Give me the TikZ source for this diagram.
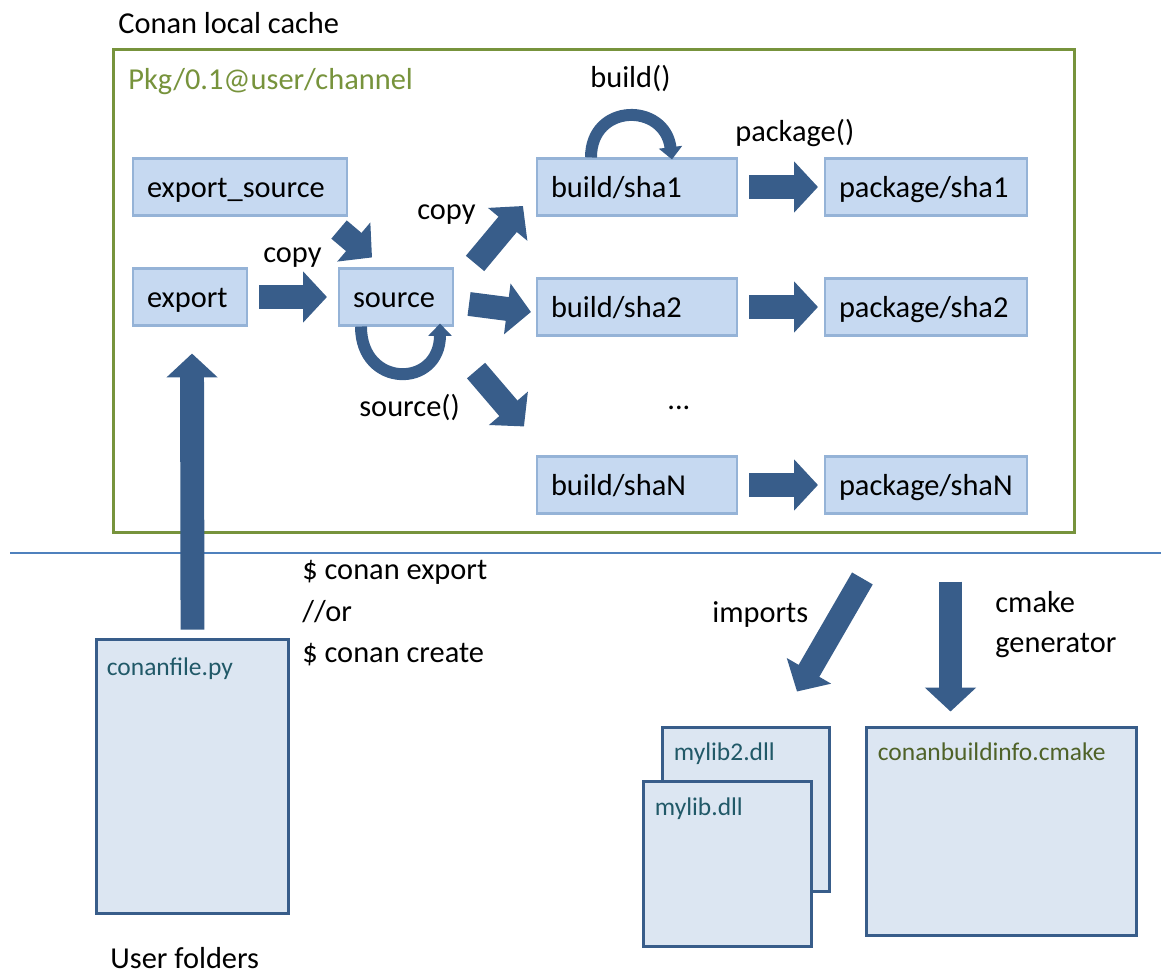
\documentclass[tikz,border=0pt]{standalone}
\usepackage{fontspec}
\setmainfont{Carlito}
\usetikzlibrary{arrows.meta, calc, positioning}

\definecolor{cachegreen}{HTML}{77933C}
\definecolor{boxfill}{HTML}{C6D9F1}
\definecolor{boxline}{HTML}{95B3D7}
\definecolor{arrowblue}{HTML}{385D8A}
\definecolor{filefill}{HTML}{DCE6F2}
\definecolor{sepblue}{HTML}{4F81BD}
\definecolor{fileteal}{HTML}{215968}
\definecolor{fileolive}{HTML}{4F6228}

\begin{document}
\begin{tikzpicture}[x=0.02cm, y=-0.02cm, >=Latex,
  every node/.style={font=\fontsize{17.3}{20}\selectfont},
  dirbox/.style={draw=boxline, fill=boxfill, line width=1.2pt, minimum height=1.14cm, inner xsep=0.28cm, text height=12.4pt, text depth=0pt, align=left},
  filebox/.style={draw=arrowblue, fill=filefill, line width=1.7pt},
  filename/.style={anchor=base west, inner sep=0pt, text=fileteal, font=\fontsize{14.5}{17}\selectfont},
  txt/.style={anchor=base west, inner sep=0pt},
  blockarr/.style={draw=arrowblue, line width=13.6pt, -{Triangle[length=13.6pt, width=28.4pt]}},
  looparr/.style={draw=arrowblue, line width=6.8pt, -{Triangle[length=7pt, width=13pt]}}]

  \useasboundingbox (0,0) rectangle (1161,976);

  % local cache
  \node[txt] (title) at (118,34) {Conan local cache};
  \node[draw=cachegreen, line width=1.7pt, minimum width=19.24cm, minimum height=9.68cm, inner sep=0pt] (cache) at (594,291) {};
  \node[txt, text=cachegreen] (pkg) at (128,90) {Pkg/0.1@user/channel};

  \node[dirbox, text width=3.72cm] (exsrc) at (240,187) {export\_source};
  \node[dirbox, text width=1.72cm] (export) at (190,297) {export};
  \node[dirbox, text width=1.72cm] (source) at (396,297) {source};

  \node[dirbox, text width=3.44cm] (b1) at (637,187) {build/sha1};
  \node[dirbox, text width=3.48cm] (p1) at (926,187) {package/sha1};
  \node[dirbox, text width=3.44cm] (b2) at (637,307) {build/sha2};
  \node[dirbox, text width=3.48cm] (p2) at (926,307) {package/sha2};
  \node[dirbox, text width=3.44cm] (bN) at (637,485) {build/shaN};
  \node[dirbox, text width=3.48cm] (pN) at (926,485) {package/shaN};
  \node[txt] (dots) at (667,410) {...};

  \draw[blockarr] ([shift={(11,0)}]export.east) -- ([shift={(-11,0)}]source.west);
  \draw[blockarr] ([shift={(-9,13)}]exsrc.south east) -- ([shift={(-24,-10)}]source.north);
  \draw[blockarr] ([shift={(21,-4)}]source.north east) -- ([shift={(-13,19)}]b1.west);
  \draw[blockarr] ([shift={(15,7)}]source.east) -- ([shift={(-5,5)}]b2.west);
  \draw[blockarr] ([shift={(22,44)}]source.south east) -- ([shift={(-12,-29)}]bN.north west);

  \draw[blockarr] ([shift={(11,0)}]b1.east) -- ([shift={(-6,0)}]p1.west);
  \draw[blockarr] ([shift={(11,0)}]b2.east) -- ([shift={(-6,0)}]p2.west);
  \draw[blockarr] ([shift={(11,0)}]bN.east) -- ([shift={(-6,0)}]pN.west);

  \draw[looparr] ([shift={(-46,0)}]b1.north) .. controls ([shift={(-46,-55)}]b1.north) and ([shift={(28,-55)}]b1.north) .. ([shift={(35,2)}]b1.north);
  \draw[looparr] ([shift={(-35,0)}]source.south) .. controls ([shift={(-35,62)}]source.south) and ([shift={(44,62)}]source.south) .. ([shift={(44,-3)}]source.south);

  \node[txt] (copy1) at (263,263) {copy};
  \node[txt] (copy2) at (417,220) {copy};
  \node[txt] (srcfn) at (359,417) {source()};
  \node[txt] (buildfn) at (590,88) {build()};
  \node[txt] (pkgfn) at (735,142) {package()};

  \draw[sepblue, line width=1.2pt] (10,553) -- (1161,553);

  % user folders
  \node[filebox, minimum width=3.86cm, minimum height=5.5cm] (cf) at (192.5,776.5) {};
  \node[filename] (cfname) at ([shift={(12,38)}]cf.north west) {conanfile.py};
  \draw[blockarr] ([shift={(0,-8)}]cf.north) -- ([shift={(2,27)}]export.south);

  \node[txt] (cmd1) at (302,580) {\$ conan export};
  \node[txt] (cmd2) at (302,622) {//or};
  \node[txt] (cmd3) at (302,663) {\$ conan create};
  \node[txt] (user) at (110,969) {User folders};

  % generated files
  \node[filebox, minimum width=3.36cm, minimum height=3.3cm] (lib2) at (746,809.5) {};
  \node[filename] (lib2name) at ([shift={(13,35)}]lib2.north west) {mylib2.dll};
  \node[filebox, minimum width=3.38cm, minimum height=3.32cm] (lib) at (727.5,864) {};
  \node[filename] (libname) at ([shift={(13,36)}]lib.north west) {mylib.dll};
  \node[filebox, minimum width=5.42cm, minimum height=4.18cm] (cbi) at (1001.5,831.5) {};
  \node[filename, text=fileolive] (cbiname) at ([shift={(13,35)}]cbi.north west) {conanbuildinfo.cmake};

  \draw[blockarr] ([shift={(-214,44)}]cache.south east) -- ([shift={(51,-34)}]lib2.north);
  \draw[blockarr] ([shift={(-51,-144)}]cbi.north) -- ([shift={(-51,-14)}]cbi.north);

  \node[txt] (imports) at (712,623) {imports};
  \node[txt] (cmake1) at (995,613) {cmake};
  \node[txt] (cmake2) at (995,653) {generator};

\end{tikzpicture}
\end{document}
